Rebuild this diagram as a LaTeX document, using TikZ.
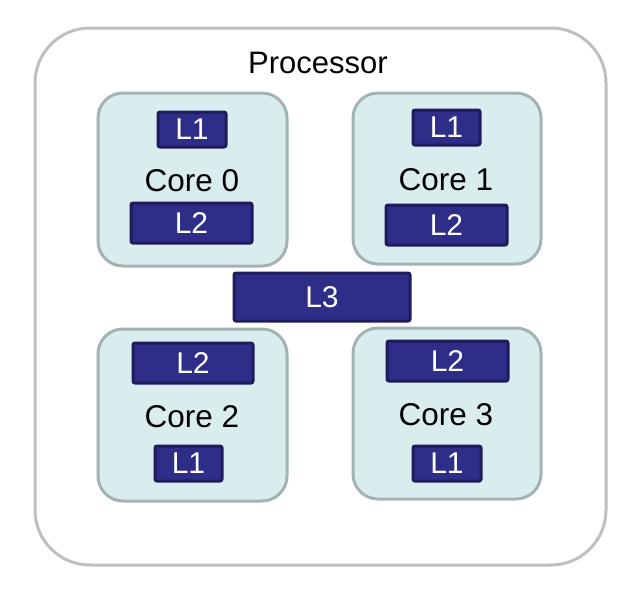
\documentclass[tikz,border=0pt]{standalone}
\usepackage{fontspec}
\setmainfont{Liberation Sans}
\definecolor{procborder}{HTML}{BFBFBF}
\definecolor{corefill}{HTML}{DAEDEE}
\definecolor{coreborder}{HTML}{A3B3B3}
\definecolor{cachefill}{HTML}{2E2D88}
\definecolor{cacheborder}{HTML}{1F1C5E}
\begin{document}
\begin{tikzpicture}[x=1pt,y=-1pt,
  proc/.style={draw=procborder,line width=3pt,fill=white,rounded corners=55pt},
  corebox/.style={draw=coreborder,line width=3pt,fill=corefill,rounded corners=25pt},
  cache/.style={draw=cacheborder,line width=3pt,fill=cachefill,rounded corners=2pt},
  cachetext/.style={text=white,font=\fontsize{30}{34}\selectfont},
  label/.style={font=\fontsize{31.5}{36}\selectfont}]
\useasboundingbox (0,0) rectangle (643,598);
\draw[proc] (35,28) rectangle (606,565);
\node[label,font=\fontsize{31}{35}\selectfont] (ptxt) at (318,63) {Processor};
% cores
\draw[corebox] (98,93) rectangle (287,266);
\draw[corebox] (353,93) rectangle (541,264);
\draw[corebox] (98,329) rectangle (287,501);
\draw[corebox] (353,328) rectangle (541,499);
% core 0
\draw[cache] (158,112) rectangle (226,147);
\node[cachetext] (c0l1) at (192,129.5) {L1};
\node[label] (c0) at (192,181) {Core 0};
\draw[cache] (131,203) rectangle (252,243);
\node[cachetext] (c0l2) at (191.5,223) {L2};
% core 1
\draw[cache] (413,110) rectangle (480,145);
\node[cachetext] (c1l1) at (446.5,127.5) {L1};
\node[label] (c1) at (446,180) {Core 1};
\draw[cache] (386,205) rectangle (507,245);
\node[cachetext] (c1l2) at (446.5,225) {L2};
% L3
\draw[cache] (234,273) rectangle (410,321);
\node[cachetext] (l3) at (322,297) {L3};
% core 2
\draw[cache] (133,343) rectangle (253,383);
\node[cachetext] (c2l2) at (193,363) {L2};
\node[label] (c2) at (192,417) {Core 2};
\draw[cache] (155,446) rectangle (222,481);
\node[cachetext] (c2l1) at (188.5,463.5) {L1};
% core 3
\draw[cache] (387,341) rectangle (508,381);
\node[cachetext] (c3l2) at (447.5,361) {L2};
\node[label] (c3) at (446,415) {Core 3};
\draw[cache] (413,446) rectangle (481,481);
\node[cachetext] (c3l1) at (447,463.5) {L1};
\end{tikzpicture}
\end{document}
